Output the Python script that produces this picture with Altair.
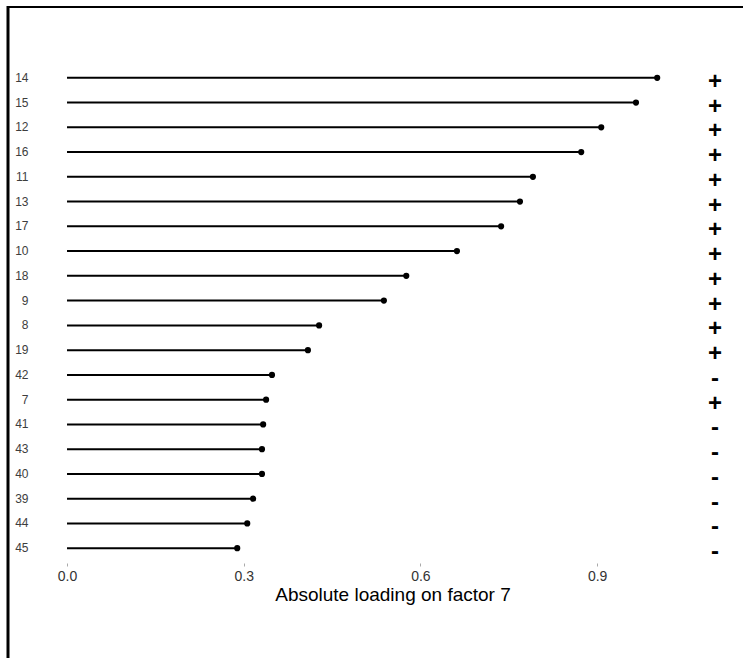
import altair as alt
import pandas as pd

items = ["14", "15", "12", "16", "11", "13", "17", "10", "18", "9",
         "8", "19", "42", "7", "41", "43", "40", "39", "44", "45"]
loadings = [1.002, 0.966, 0.907, 0.873, 0.791, 0.769, 0.737, 0.662, 0.576, 0.538,
            0.428, 0.409, 0.348, 0.338, 0.333, 0.331, 0.331, 0.316, 0.306, 0.289]
signs = ["+", "+", "+", "+", "+", "+", "+", "+", "+", "+",
         "+", "+", "-", "+", "-", "-", "-", "-", "-", "-"]
x_ticks = [0.0, 0.3, 0.6, 0.9]
x_title = "Absolute loading on factor 7"
sign_pos = 1.1

df = pd.DataFrame({"item": items, "loading": loadings, "sign": signs})
df["zero"] = 0.0
df["signx"] = sign_pos

CW, CH = 743, 658
W, H = 675, 500
PL, PT = 55, 63

xscale = alt.Scale(domain=[-0.0204, 1.1256], nice=False, zero=False)
yscale = alt.Scale(domain=items, paddingInner=0, paddingOuter=0.1)

base = alt.Chart(df)

y_enc = alt.Y("item:N", scale=yscale, sort=items,
              axis=alt.Axis(title=None, ticks=False, domain=False, grid=False,
                            labelPadding=27, labelFontSize=12,
                            labelColor="#3d3d3d", labelFont="Liberation Sans"))

lines = base.mark_rule(color="black", strokeWidth=2).encode(
    x=alt.X("zero:Q", scale=xscale,
            axis=alt.Axis(title=x_title, values=x_ticks, format=".1f",
                          domain=False, grid=False, tickSize=3,
                          tickColor="#aaaaaa", labelFontSize=14,
                          labelColor="#333333", labelPadding=3,
                          labelFont="Liberation Sans", titleFont="Liberation Sans",
                          titleFontSize=19, titleFontWeight="normal",
                          titleColor="black", titlePadding=2)),
    x2="loading:Q",
    y=y_enc,
)

dots = base.mark_circle(color="black", opacity=1, size=38).encode(
    x=alt.X("loading:Q", scale=xscale),
    y=alt.Y("item:N", scale=yscale, sort=items),
)

sign_text = base.mark_text(fontSize=24, font="Liberation Sans", fontWeight="bold",
                           color="black", baseline="middle", align="center",
                           dy=4).encode(
    x=alt.X("signx:Q", scale=xscale),
    y=alt.Y("item:N", scale=yscale, sort=items),
    text="sign:N",
)

frame_df = pd.DataFrame({"k": [0]})
left_border = alt.Chart(frame_df).mark_rule(color="black", strokeWidth=3).encode(
    x=alt.value(8 - PL), y=alt.value(6 - PT), y2=alt.value(CH + 10 - PT))
top_border = alt.Chart(frame_df).mark_rule(color="black", strokeWidth=2).encode(
    x=alt.value(7 - PL), x2=alt.value(CW + 10 - PL), y=alt.value(7 - PT))

chart = alt.layer(lines, dots, sign_text, left_border, top_border).properties(
    width=W, height=H,
    autosize=alt.AutoSizeParams(type="none"),
    padding={"left": PL, "top": PT, "right": CW - PL - W, "bottom": CH - PT - H},
).configure(background="white").configure_view(stroke=None)

chart.save("out.html", embed_options={"renderer": "svg", "actions": False})
